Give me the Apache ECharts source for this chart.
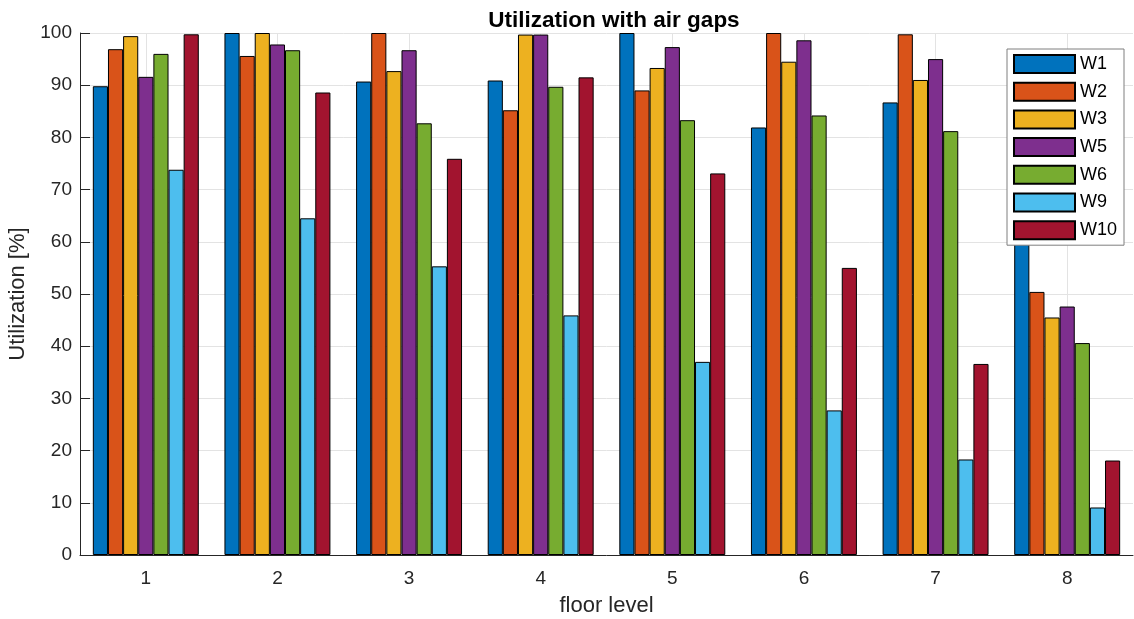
<!DOCTYPE html>
<html>
<head>
<meta charset="utf-8">
<script src="https://cdn.jsdelivr.net/npm/echarts@6/dist/echarts.min.js"></script>
<style>html,body{margin:0;padding:0;background:#fff}#c{width:1134px;height:619px}</style>
</head>
<body>
<div id="c"></div>
<script>
const categories = ['1','2','3','4','5','6','7','8'];
const seriesNames = ['W1','W2','W3','W5','W6','W9','W10'];
const W1  = [89.8, 100, 90.7, 90.9, 100, 81.9, 86.7, 59.9];
const W2  = [96.9, 95.6, 100, 85.2, 89.0, 100, 99.75, 50.4];
const W3  = [99.4, 100, 92.7, 99.7, 93.3, 94.5, 91.0, 45.5];
const W5  = [91.6, 97.8, 96.7, 99.7, 97.3, 98.6, 95.0, 47.6];
const W6  = [96.0, 96.7, 82.7, 89.7, 83.3, 84.2, 81.2, 40.6];
const W9  = [73.8, 64.5, 55.3, 45.9, 37.0, 27.7, 18.3, 9.1];
const W10 = [99.75, 88.6, 75.9, 91.5, 73.1, 55.0, 36.6, 18.1];
const seriesValues = [W1, W2, W3, W5, W6, W9, W10];
const colors = ['#0072BD','#D95319','#EDB120','#7E2F8E','#77AC30','#4DBEEE','#A2142F'];

const FONT = 'Liberation Sans, Arial, sans-serif';
const textColor = '#262626';
const gridColor = '#e3e3e3';
const chart = echarts.init(document.getElementById('c'), null, {renderer:'canvas'});

const barSeries = seriesNames.map((n, i) => ({
  name: n,
  type: 'bar',
  data: seriesValues[i],
  barGap: '0%',
  barCategoryGap: '19.5%',
  z: 4,
  itemStyle: {color: colors[i], borderColor: '#000', borderWidth: 1}
}));
// vertical grid lines at category centres (as in the reference), drawn behind the bars
const gridSeries = {
  name: '_grid',
  type: 'line',
  data: [],
  z: 0,
  silent: true,
  markLine: {
    z: 0,
    silent: true,
    symbol: ['none', 'none'],
    label: {show: false},
    lineStyle: {color: gridColor, type: 'solid', width: 1},
    emphasis: {disabled: true},
    data: categories.map(c => ({xAxis: c}))
  }
};

chart.setOption({
  animation: false,
  backgroundColor: '#fff',
  title: {
    text: 'Utilization with air gaps',
    left: 609, top: 4, textAlign: 'center',
    textStyle: {fontFamily: FONT, fontSize: 22.5, fontWeight: 'bold', color: '#000'}
  },
  legend: {
    orient: 'vertical',
    left: 1007, top: 49,
    itemWidth: 61, itemHeight: 18, itemGap: 7.7,
    padding: [5, 7, 5, 6],
    borderColor: '#7f7f7f', borderWidth: 1,
    backgroundColor: '#fff',
    icon: 'rect',
    z: 10,
    textStyle: {fontFamily: FONT, fontSize: 18, color: '#000'},
    data: seriesNames
  },
  grid: {left: 80, right: 1, top: 33, bottom: 64, containLabel: false, outerBoundsMode: 'none'},
  xAxis: {
    type: 'category',
    data: categories,
    name: 'floor level',
    nameLocation: 'middle',
    nameGap: 40,
    nameTextStyle: {fontFamily: FONT, fontSize: 22, color: textColor},
    axisLine: {lineStyle: {color: '#262626', width: 1}},
    axisTick: {show: true, inside: true, alignWithLabel: true, length: 10, lineStyle: {color: '#262626'}},
    axisLabel: {fontFamily: FONT, fontSize: 19, color: textColor, margin: 14},
    splitLine: {show: false}
  },
  yAxis: {
    type: 'value',
    min: 0, max: 100, interval: 10,
    name: 'Utilization [%]',
    nameLocation: 'middle',
    nameGap: 48,
    nameRotate: 90,
    nameTextStyle: {fontFamily: FONT, fontSize: 22, color: textColor},
    axisLine: {show: true, lineStyle: {color: '#262626', width: 1}},
    axisTick: {show: true, inside: true, length: 10, lineStyle: {color: '#262626'}},
    axisLabel: {fontFamily: FONT, fontSize: 19, color: textColor, margin: 8},
    splitLine: {show: true, lineStyle: {color: gridColor}}
  },
  series: [gridSeries].concat(barSeries)
});
</script>
</body>
</html>
